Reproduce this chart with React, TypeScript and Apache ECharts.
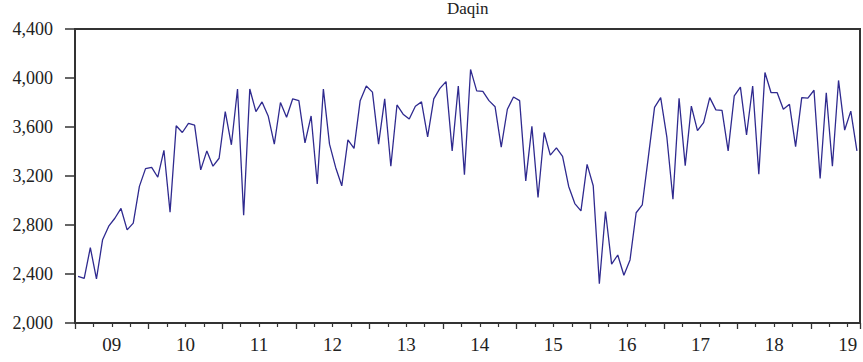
import React, { useEffect, useRef } from "react";
import * as echarts from "echarts";

const chartTitle = "Daqin";
const startYear = 2009;
// Monthly observations, Jan 2009 – Aug 2019
const values = [
  2380, 2365, 2615, 2360, 2680, 2790, 2855, 2935, 2760, 2815, 3115, 3260,
  3270, 3190, 3410, 2905, 3610, 3555, 3630, 3615, 3250, 3405, 3280, 3345,
  3725, 3455, 3910, 2880, 3910, 3725, 3805, 3690, 3460, 3800, 3680, 3830,
  3815, 3470, 3690, 3135, 3910, 3460, 3270, 3120, 3495, 3425, 3815, 3935,
  3885, 3460, 3830, 3280, 3780, 3705, 3665, 3770, 3805, 3520, 3830, 3915,
  3970, 3405, 3935, 3210, 4070, 3895, 3890, 3815, 3765, 3435, 3745, 3845,
  3815, 3160, 3605, 3025, 3555, 3370, 3430, 3360, 3115, 2975, 2915, 3295,
  3120, 2320, 2910, 2480, 2555, 2390, 2515, 2900, 2965, 3360, 3760, 3840,
  3520, 3010, 3835, 3285, 3770, 3570, 3635, 3840, 3740, 3735, 3405, 3855,
  3925, 3535, 3935, 3215, 4045, 3880, 3880, 3745, 3785, 3440, 3840, 3835,
  3900, 3180, 3880, 3280, 3980, 3575, 3730, 3405,
];
const yearLabels = ["09", "10", "11", "12", "13", "14", "15", "16", "17", "18", "19"];
const yMin = 2000;
const yMax = 4400;
const yStep = 400;

export default function App() {
  const ref = useRef<HTMLDivElement>(null);
  useEffect(() => {
    document.body.style.margin = "0";
    if (!ref.current) return;
    const chart = echarts.init(ref.current, undefined, { renderer: "svg" });
    const font = "'Liberation Serif', 'Times New Roman', serif";
    const axisColor = "#333333";
    const months = values.length; // 128
    const points = values.map((v, i) => [i + 0.5, v]);
    chart.setOption({
      animation: false,
      backgroundColor: "#ffffff",
      title: {
        text: chartTitle,
        left: 447,
        top: 0,
        padding: 0,
        textStyle: { fontFamily: font, fontSize: 17, fontWeight: "normal", color: "#222" },
      },
      grid: {
        left: 75,
        top: 29,
        right: -2,
        bottom: 39,
        show: true,
        borderColor: axisColor,
        borderWidth: 2,
        backgroundColor: "transparent",
      },
      xAxis: [
        {
          type: "value",
          min: 0,
          max: months,
          interval: 12,
          axisLine: { show: true, lineStyle: { color: axisColor, width: 1.5 } },
          axisTick: { show: true, inside: false, length: 6, lineStyle: { color: axisColor, width: 1.3 } },
          minorTick: { show: true, splitNumber: 4, length: 4, lineStyle: { color: axisColor, width: 1.2 } },
          axisLabel: { show: false },
          splitLine: { show: false },
          minorSplitLine: { show: false },
        },
        {
          type: "value",
          min: 0,
          max: months,
          interval: 6,
          position: "bottom",
          axisLine: { show: false },
          axisTick: { show: false },
          splitLine: { show: false },
          axisLabel: {
            show: true,
            margin: 12,
            fontFamily: font,
            fontSize: 19,
            color: "#222",
            showMinLabel: true,
            showMaxLabel: true,
            formatter: (v: number) => {
              if (v % 12 !== 6) return "";
              const idx = (v - 6) / 12;
              return yearLabels[idx] ?? String((startYear + idx) % 100).padStart(2, "0");
            },
          },
        },
      ],
      yAxis: {
        type: "value",
        min: yMin,
        max: yMax,
        interval: yStep,
        axisLine: { show: true, lineStyle: { color: axisColor, width: 2 } },
        axisTick: { show: true, inside: false, length: 10, lineStyle: { color: axisColor, width: 1.5 } },
        splitLine: { show: false },
        axisLabel: {
          margin: 22,
          fontFamily: font,
          fontSize: 18,
          color: "#222",
          formatter: (v: number) => v.toLocaleString("en-US"),
        },
      },
      series: [
        {
          type: "line",
          xAxisIndex: 0,
          data: points,
          showSymbol: false,
          symbol: "none",
          lineStyle: { color: "#2f2a8f", width: 1.3 },
        },
      ],
    });
    return () => chart.dispose();
  }, []);
  return <div ref={ref} style={{ width: 863, height: 362 }} />;
}
